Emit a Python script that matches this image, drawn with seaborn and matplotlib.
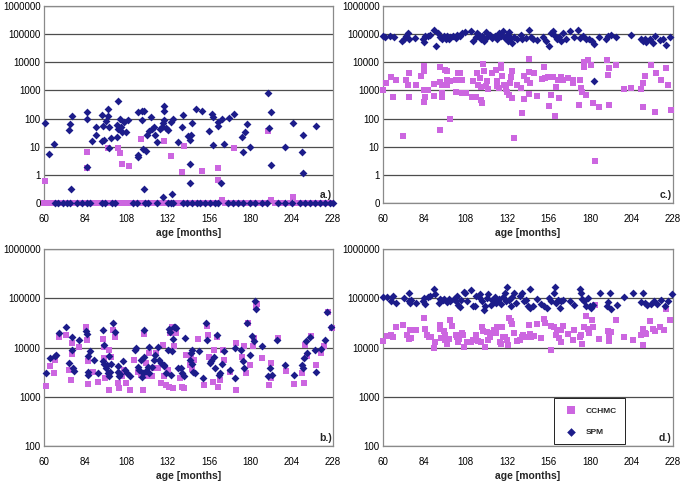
"""
Four log-scale scatter panels: CCHMC vs SPM values by age (months), panels a.) - d.)
"""

import numpy as np
import matplotlib
matplotlib.use("Agg")
import matplotlib.pyplot as plt
import seaborn as sns
from matplotlib.ticker import FixedLocator, FuncFormatter, NullLocator

# ── Data ──────────────────────────────────────────────────────────────────────

MONTH_TICKS = [60, 84, 108, 132, 156, 180, 204, 228]

# panel a.) -- zeros are drawn on the "0" line at the bottom
a_cchmc_month = [60.4, 85, 85, 97.4, 103.2, 104.1, 105.1, 109.5, 116.6, 129.7, 133.6, 140,
                 141.3, 151.9, 161.2, 161.2, 163.5, 170.2, 190.4, 191.8, 204.9,
                 60, 61, 62.5, 64, 65.5, 67, 68, 69.5, 71, 72.5, 74, 75, 76.5, 78, 79.5, 81,
                 82, 83.5, 85, 86.5, 88, 89, 90.5, 92, 93.5, 95, 96, 97.5, 99, 100.5, 102, 103,
                 104.5, 106, 107.5, 111, 112.5, 114, 115.5, 117, 118.5, 120, 121, 122.5, 124,
                 125.5, 127, 128.5, 130, 131, 132.5, 134, 135.5, 137, 138.5, 140, 141.5, 143,
                 144, 146, 148, 150, 152, 154, 156, 158, 160, 165, 168, 171, 174, 177, 180,
                 183, 186, 188, 194, 197, 199, 203, 207, 210, 212, 215, 218, 221, 224, 227]
a_cchmc_val = [0.6, 6.6, 1.7, 9, 9, 5.8, 2.4, 2.1, 19, 16, 4.6, 1.3,
               10.5, 1.35, 1.8, 0.68, 0.13, 8.7, 36, 0.13, 0.16] + [0] * 88

a_spm_month = [60.4, 62.9, 65.6, 74.5, 75.4, 76.2, 75.8, 84.8, 84.8, 84.8, 87.9, 90, 90,
               93.8, 93.8, 94.4, 94.8, 96.3, 97.1, 97.1, 97.7, 97.7, 99.2, 102.8, 102.4,
               102.4, 103, 104, 104.7, 105.6, 106.6, 107.6, 109.1, 114.7, 114.9, 114.7,
               116.8, 118.2, 117.2, 118.2, 117.8, 119.5, 120.1, 121, 122, 122.6, 124, 124.5,
               125.9, 127.4, 128.4, 129.4, 129.7, 129.7, 129.7, 129, 131.1, 132.3, 133.6,
               134.6, 135.1, 137.8, 140, 140.9, 143.6, 144.8, 145.2, 144.8, 144.8, 145.9,
               148.1, 151.9, 155.8, 157.7, 158.3, 158.1, 161.2, 161.2, 163.1, 163.5, 164.4,
               167.5, 170.6, 175, 177, 177.9, 175.6, 179.6, 190.4, 191, 191.8, 191.8, 200,
               204.9, 209.7, 210.7, 210.7, 218,
               66.4, 68.3, 71.2, 73.1, 75.1, 79, 81.9, 84.8, 86.7, 93.5, 95.3, 99.3, 101.3,
               111.9, 113.8, 118.7, 120.6, 125.4, 132.2, 134.1, 135, 140.8, 143, 145.9,
               148.8, 150.7, 153.6, 156.5, 159.4, 161.3, 167.1, 170, 172.9, 175.8, 179.8,
               182.7, 186.6, 189.5, 196.2, 200.1, 204, 208.8, 211.7, 214.7, 217.6, 220.5,
               223.4, 226.3, 228]
a_spm_val = [68, 5.5, 13, 40, 63, 126, 0.32, 175, 100, 1.9, 16, 27, 49,
             135, 16, 55, 18, 85, 225, 128, 52, 8.7, 20, 436, 59,
             23, 43, 100, 52, 32, 78, 33, 90, 5.2, 4.2, 175,
             190, 190, 90, 0.32, 8.3, 7.2, 26, 37, 117, 42, 49, 27,
             15, 42, 52, 72, 280, 190, 90, 0.16, 45, 39, 78,
             0.21, 100, 15, 49, 135, 24, 18, 26, 2.5, 0.5, 72,
             215, 190, 36, 145, 117, 11.5, 55, 78, 0.52, 95, 13,
             107, 150, 23, 32, 63, 6.6, 10, 800, 45, 175, 2.3, 9.5,
             68, 6.6, 27, 1.2, 55] + [0] * 49

# panel c.)
c_cchmc_month = [60, 61.7, 64.7, 65.6, 67.6, 71.4, 73.4, 74.5, 75.3, 74.9, 79.2, 82.1, 83.6,
                 84, 84, 83.6, 84.6, 86, 89.5, 89.8, 93, 93, 94.3, 94, 94, 93.3, 95.7, 96.8,
                 97.2, 97.2, 98.8, 98.8, 102, 102.4, 103.4, 104.4, 105.9, 105.9, 107.9, 111.7,
                 112.3, 113.6, 114.2, 115, 116, 116.6, 117, 117.6, 118.1, 118.5, 119.7, 120.4,
                 121, 123.4, 125.3, 125.9, 126.3, 127.3, 128.2, 128.6, 129.2, 130.2, 131.1,
                 132.1, 133.1, 133.6, 134.4, 134.6, 135, 135.6, 137.9, 139.9, 140.8, 141.4,
                 141.4, 143.7, 144.3, 144.7, 145.3, 144.7, 147.2, 149.1, 151.9, 153.5, 153.8,
                 155.8, 156.3, 157.3, 158.2, 159.6, 160.2, 161.2, 162.1, 163.1, 164.1, 167,
                 169.9, 169.9, 173.8, 174.4, 174.8, 175.2, 176.3, 176.7, 177.7, 178.6, 180.6,
                 181.5, 182.9, 185.4, 189.9, 190.2, 191.2, 191.2, 195.1, 199.5, 203.8, 209.6,
                 210.6, 211.6, 210.6, 215.4, 217.4, 218.4, 221.3, 223.8, 225.2, 227]
c_cchmc_val = [1000, 1800, 2900, 570, 2300, 25, 2300, 1500, 4000, 570, 1600, 3300, 1000,
               7600, 5100, 380, 600, 1070, 1700, 640, 2000, 6600, 1600, 570, 810, 40, 5500, 5100,
               2400, 1500, 2100, 95, 900, 2400, 4200, 4000, 2400, 810, 810, 570,
               2100, 570, 4200, 1500, 2800, 1300, 470, 370, 8700, 5100, 1400, 2100,
               1100, 4200, 5500, 2100, 1400, 1250, 6200, 8200, 3300, 1600, 1100,
               870, 700, 1800, 3100, 530, 5100, 20, 1600, 1250, 155, 490,
               3300, 2300, 13000, 4400, 1800, 770, 4000, 640, 2600, 7000, 2800,
               3100, 280, 700, 3000, 120, 1300, 2400, 530, 3000, 2400, 2800,
               2400, 1800, 300, 2400, 1250, 870, 7000, 10000, 700, 12000, 7700,
               350, 3, 250, 12000, 3500, 6200, 300, 7700, 1100, 1200, 1100,
               1900, 3300, 250, 7700, 165, 4200, 2400, 6200, 1600, 210]

c_spm_month = [60, 61.3, 64, 66.2, 71, 72.4, 73.6, 74.5, 75.3, 78.8, 83.3, 83.6, 84.6, 86,
               87.5, 89.8, 90.8, 91.8, 93, 94, 95.3, 96.3, 97.3, 98.2, 99.1, 100.7, 102, 103,
               104.6, 106, 107.3, 110.8, 112.3, 113.7, 114.7, 115.6, 116.6, 117.6, 118.5,
               119.5, 120.4, 122, 123.4, 124.7, 125.9, 127.3, 128.2, 129.8, 130.5, 131.7,
               132.5, 133, 134, 135, 135.9, 137.5, 139.8, 140.8, 142.7, 144.6, 145.6, 147.1,
               149.5, 152.4, 154.3, 156.3, 157.2, 158.2, 159.6, 160.7, 162.1, 163.1, 164.1,
               166, 168.5, 170.9, 173.2, 174.4, 175.7, 177.7, 179.6, 181, 182.5, 182.5,
               185.4, 189.3, 190.6, 191.8, 195.1, 203.8, 209.6, 210.6, 211.6, 212.5, 214.5,
               216.4, 217.4, 220.3, 222.2, 224.2, 226.1]
c_spm_val = [85000, 80000, 85000, 80000, 56000, 68000, 88000, 110000, 65000, 72000, 68000,
             52000, 85000, 88000, 93000, 140000, 37000, 110000, 80000, 65000, 88000, 68000,
             85000, 68000, 80000, 88000, 72000, 93000, 85000, 110000, 120000, 130000, 56000,
             80000, 110000, 93000, 68000, 85000, 56000, 115000, 80000, 93000, 72000, 88000,
             68000, 110000, 85000, 125000, 72000, 93000, 56000, 115000, 72000, 50000, 80000,
             65000, 93000, 65000, 72000, 135000, 80000, 68000, 62000, 80000, 56000, 38000,
             110000, 125000, 88000, 65000, 80000, 56000, 110000, 68000, 125000, 80000,
             135000, 72000, 85000, 65000, 68000, 56000, 45000, 2200, 80000, 68000, 88000,
             93000, 80000, 93000, 68000, 56000, 65000, 52000, 68000, 50000, 88000, 62000,
             65000, 42000, 80000]

# panel b.)
b_cchmc_month = [61, 63.3, 65.8, 66.6, 69, 72.9, 74.8, 75.8, 76.2, 76.2, 80.2, 84.4, 84.8,
                 85.3, 85.7, 88.3, 91.2, 94.1, 94.6, 95, 95.5, 98, 98, 99, 100, 101.3, 102.8,
                 103.8, 105.1, 106.6, 107.6, 110.2, 112.5, 114.5, 116.4, 117.4, 118.3, 119.3,
                 120.2, 121.2, 122.6, 124.1, 125.1, 126, 128, 128.9, 129.9, 130.8, 131.8,
                 132.8, 133.4, 134.2, 134.8, 135.4, 135.9, 136.9, 138.8, 140.3, 141.3, 142.3,
                 144.6, 145.2, 146, 147.1, 149.8, 152.9, 154.6, 155.2, 156.2, 158.1, 159.1,
                 160.6, 161.4, 162.6, 163.9, 164.9, 168.4, 171.7, 171.7, 175, 176.1, 177.5,
                 178.4, 180, 181.3, 181.8, 183.3, 183.8, 186.6, 190.8, 191.7, 192.1, 196,
                 200.4, 205.6, 210.1, 211.1, 211.5, 213, 215.3, 218.4, 221.3, 223, 224.9, 227.4]
b_cchmc_val = [1670, 4200, 3000, 5600, 16700, 18000, 3500, 2200, 7400, 12500, 10100, 26000,
               13900, 1800, 5200, 3200, 2000, 14700, 10400, 6000, 2400, 1400, 8900, 6300,
               23000, 16700, 1900, 1500, 2600, 3500, 1900, 1400, 5600, 3200, 2800, 1400,
               18500, 4800, 2600, 7700, 2600, 3800, 7700, 3800, 1900, 11300, 2600, 1700,
               3500, 1600, 19500, 26500, 1500, 10800, 22000, 19500, 2400, 1600, 1500, 7000,
               4400, 6300, 3600, 5600, 14700, 1700, 27500, 18000, 6500, 2000, 8900, 16700,
               1600, 2200, 8900, 5600, 3200, 12500, 1400, 6500, 10800, 3000, 32000, 4400,
               10800, 15500, 69000, 78000, 6000, 1700, 2400, 4800, 15500, 3300, 1800, 3100,
               1900, 11300, 6800, 17200, 4400, 7700, 10800, 51500, 25000]

b_spm_month = [61, 63.3, 66.2, 67, 69, 72.9, 74.8, 76.2, 76.2, 76.7, 77.3, 80.2, 84.4, 84.8,
               85.3, 85.3, 85.7, 86.9, 88.8, 91.2, 94.1, 94.1, 94.6, 95, 96, 96.6, 97, 98, 98,
               98.5, 99, 100, 101.3, 102.8, 103.2, 103.8, 104.4, 105.8, 107.1, 108.3, 110.2,
               112.9, 113.5, 114.9, 115, 116.4, 116.8, 117.4, 118.3, 118.3, 119.3, 120.2,
               120.8, 121.2, 122.6, 123.7, 124.6, 126, 127, 128.3, 129.5, 129.9, 131.2,
               131.8, 132.4, 133.4, 133.8, 134.2, 134.8, 135.4, 136.1, 136.7, 137.7, 139.6,
               140.5, 141.5, 142, 144.8, 145.6, 145.8, 146.1, 146.7, 147.6, 150, 152.5, 154.4,
               154.8, 156.3, 157.1, 158.7, 159.6, 160.6, 161.5, 162.5, 163.5, 164.5, 167.9,
               171.2, 171.2, 174.5, 175.6, 176, 177.9, 179.9, 180.8, 181.8, 182.8, 183.3,
               186.6, 190.5, 191.4, 192.4, 195.6, 200.1, 205.3, 209.7, 210.7, 211.1, 212.2,
               213, 214.9, 217.4, 218, 220.9, 223.2, 224.6, 226.7]
b_spm_val = [3000, 6000, 6700, 6900, 19500, 25700, 4900, 16700, 8700, 3800, 3400, 14400,
             22000, 19000, 6700, 2800, 3200, 8600, 5600, 3100, 23000, 5400, 4600, 11300,
             3800, 4400, 3000, 6800, 2600, 3200, 4600, 31500, 21000, 4200, 3200, 2600, 2900,
             5200, 3500, 3000, 2600, 8900, 9600, 4100, 3500, 5700, 2500, 3000, 23000, 6300,
             3300, 4100, 3000, 10100, 4100, 5600, 7100, 10400, 5700, 4900, 4400, 4200, 3000,
             8900, 23500, 21000, 2800, 8300, 14800, 26000, 26000, 24500, 3800, 3800, 3100,
             2600, 15500, 5600, 7900, 8900, 4600, 3200, 3100, 8300, 2400, 32000, 14300, 4900,
             5400, 6300, 3800, 18000, 2800, 3000, 4600, 8300, 3500, 9700, 2400, 8900, 5200,
             3800, 32000, 7100, 17000, 13300, 87000, 60000, 10500, 2600, 3800, 2800, 14300,
             4400, 2800, 4400, 3800, 6000, 13300, 7700, 16700, 8900, 3200, 9200, 14300,
             51500, 26000]

# panel d.)
d_cchmc_month = [60, 62.3, 64.7, 65.8, 67.8, 71.6, 74, 74.9, 75.9, 76.3, 79.3, 83.6, 84.2,
                 85.2, 86.5, 87.9, 89.8, 90, 92.9, 93.3, 93.7, 95.2, 95.8, 96.2, 97.2, 98.1,
                 99.1, 100, 102, 102.6, 103.4, 104, 104.9, 105.9, 106.5, 106.9, 108.8, 110.8,
                 112.3, 113.6, 115, 116.5, 117.5, 118.1, 118.9, 120, 120.8, 121.9, 123.3,
                 124.2, 125.2, 126.2, 127.7, 128.1, 129.1, 129.7, 130.5, 132, 132.4, 133, 134,
                 134.9, 135.9, 137.4, 139.4, 140.3, 141.3, 143.6, 144.6, 145.2, 146, 147.5,
                 149.4, 151.4, 153.3, 153.7, 157.2, 157.6, 159.1, 160.1, 161, 162, 163, 163.4,
                 164, 166.9, 169.9, 170.8, 174.3, 174.7, 175.1, 176.3, 177.6, 178.6, 179.6,
                 180.9, 181.5, 182.8, 185.3, 190.2, 190.8, 191.2, 191.8, 195.2, 199.7, 204.8,
                 209.7, 210.7, 210.7, 211.6, 212.6, 214.5, 216.5, 217.4, 220.3, 222.9, 224.2,
                 226.1]
d_cchmc_val = [13800, 17000, 18000, 16300, 25700, 29000, 18000, 14700, 22500, 15500, 22500,
               40000, 24000, 18000, 16300, 16700, 9700, 13200, 29000, 24000, 15500, 22000,
               18000, 14300, 12000, 14700, 36700, 27500, 18000, 16300, 13200, 14700, 18000,
               20000, 18000, 10400, 13200, 13200, 14300, 18000, 13800, 13200, 25700, 22000,
               10400, 21000, 14300, 16700, 19500, 22500, 20000, 25700, 13200, 12000, 25700,
               16700, 16700, 14300, 11000, 40000, 34000, 30000, 20000, 13800, 14300, 16300,
               18000, 16300, 29000, 18800, 16300, 17000, 30000, 15500, 38000, 32000, 8800,
               27500, 25700, 18000, 22500, 15500, 13200, 23000, 27500, 18800, 14300, 23000,
               16700, 18000, 12000, 25700, 44000, 24000, 20000, 36700, 25700, 74000, 14700,
               22000, 17000, 13800, 21000, 36700, 16300, 14300, 18000, 24000, 11000, 20000,
               18800, 34000, 24000, 22000, 25700, 22500, 60000, 36700]

d_spm_month = [60, 62.3, 64.8, 65.6, 67.8, 72, 74.9, 74.9, 75.5, 76.3, 79.3, 83.2, 83.6,
               84.6, 85.9, 87.1, 89.8, 90, 92.3, 93.3, 94.8, 95.6, 96.8, 98.1, 99.1, 101, 102,
               103, 103.4, 104.5, 105.3, 106.8, 107.7, 108.7, 111, 112.1, 113.1, 114.1, 115.4,
               116.4, 117.4, 118.4, 118.8, 120, 121, 122.3, 123.3, 124.8, 125.6, 127.1, 128.1,
               129.7, 130.5, 131.4, 132, 133, 134, 134.6, 135.9, 136.9, 139.4, 140.3, 141.4,
               142.8, 144.2, 145, 145.4, 146.8, 149.3, 151.6, 153.2, 155.1, 156.4, 157.4, 159,
               159.8, 160.3, 161.3, 162.3, 163.3, 164.2, 168.1, 170.6, 173.9, 174.5, 175.3,
               176.5, 177.8, 178.8, 179.8, 180.7, 181.7, 185.6, 189.5, 190.4, 191.4, 192,
               195.3, 199.7, 204.9, 209.7, 210.7, 211.7, 213.2, 215.1, 217.1, 218.5, 221,
               223.4, 224.9, 227.3]
d_spm_val = [107000, 107000, 90000, 112000, 81000, 100000, 87000, 130000, 81000, 93000,
             81000, 87000, 100000, 78000, 108000, 112000, 155000, 120000, 81000, 95000, 93000,
             95000, 83000, 95000, 87000, 95000, 87000, 112000, 74000, 67000, 93000, 135000,
             130000, 87000, 150000, 69000, 69000, 112000, 107000, 120000, 90000, 58000, 71000,
             100000, 120000, 74000, 93000, 108000, 81000, 95000, 78000, 108000, 125000, 87000,
             170000, 93000, 69000, 108000, 128000, 81000, 112000, 130000, 87000, 93000, 71000,
             155000, 64000, 69000, 95000, 78000, 69000, 64000, 100000, 87000, 125000, 170000,
             81000, 93000, 64000, 87000, 93000, 87000, 74000, 155000, 128000, 95000, 87000,
             69000, 100000, 69000, 64000, 74000, 128000, 69000, 83000, 128000, 60000, 74000,
             107000, 128000, 83000, 125000, 81000, 74000, 78000, 90000, 78000, 93000, 69000,
             90000, 120000]

PANELS = [
    # tag, cchmc month/val, spm month/val, y range, box (left, top, right, bottom) in px
    ("a.)", a_cchmc_month, a_cchmc_val, a_spm_month, a_spm_val, (0.1, 1e6), (44, 6, 333, 203)),
    ("c.)", c_cchmc_month, c_cchmc_val, c_spm_month, c_spm_val, (0.1, 1e6), (383, 6, 673, 203)),
    ("b.)", b_cchmc_month, b_cchmc_val, b_spm_month, b_spm_val, (100, 1e6), (44, 249, 333, 446)),
    ("d.)", d_cchmc_month, d_cchmc_val, d_spm_month, d_spm_val, (100, 1e6), (383, 249, 673, 446)),
]

PINK = "#cc66e0"
NAVY = "#1c1c8a"
W, H = 681, 483

# ── Style ─────────────────────────────────────────────────────────────────────

sns.set_style("white")
plt.rcParams["font.family"] = ["Liberation Sans", "DejaVu Sans"]


def ytick_label(v, _pos):
    return "0" if v < 1 else f"{int(round(v))}"


def draw_panel(fig, tag, cm, cv, sm, sv, yrange, box, show_legend=False):
    l, t, r, b = box
    ax = fig.add_axes([l / W, 1 - b / H, (r - l) / W, (b - t) / H])

    lo = yrange[0]
    # zero values sit on the bottom ("0") line of the log axis
    cv_plot = np.maximum(np.asarray(cv, dtype=float), lo)
    sv_plot = np.maximum(np.asarray(sv, dtype=float), lo)

    sns.scatterplot(x=cm, y=cv_plot, marker="s", color=PINK, s=25, linewidth=0,
                    ax=ax, label="CCHMC", clip_on=False, zorder=3)
    sns.scatterplot(x=sm, y=sv_plot, marker="D", color=NAVY, s=16, linewidth=0,
                    ax=ax, label="SPM", clip_on=False, zorder=4)

    ax.set_yscale("log")
    ax.set_ylim(*yrange)
    ax.set_xlim(60, 228)
    decades = [10.0 ** k for k in range(int(np.log10(yrange[0])), 7)]
    ax.yaxis.set_major_locator(FixedLocator(decades))
    ax.yaxis.set_minor_locator(NullLocator())
    ax.yaxis.set_major_formatter(FuncFormatter(ytick_label))
    ax.set_xticks(MONTH_TICKS)

    ax.yaxis.grid(True, color="#4d4d4d", lw=0.9)
    ax.set_axisbelow(True)
    for sp in ax.spines.values():
        sp.set_color("#8a8a8a")
        sp.set_linewidth(0.9)

    ax.tick_params(axis="both", length=0, labelsize=7, colors="black")
    ax.tick_params(axis="x", pad=8)
    ax.tick_params(axis="y", pad=2.5)
    ax.set_xlabel("age [months]", fontsize=7.5, fontweight="bold", labelpad=2.5)
    ax.set_ylabel("")

    ax.text(0.995, 0.015, tag, transform=ax.transAxes, ha="right", va="bottom",
            fontsize=7.5, fontweight="bold", zorder=5)

    if show_legend:
        leg = ax.legend(loc="lower left", bbox_to_anchor=(0.59, 0.01), frameon=True,
                        fancybox=False, edgecolor="#222222", framealpha=1,
                        prop={"size": 6, "weight": "bold"}, labelspacing=1.6,
                        borderpad=1.0, handletextpad=0.8, borderaxespad=0,
                        markerscale=1.1)
        leg.get_frame().set_linewidth(0.7)
        leg.set_zorder(6)
    else:
        ax.get_legend().remove()
    return ax


fig = plt.figure(figsize=(W / 100, H / 100), dpi=100)
for tag, cm, cv, sm, sv, yr, box in PANELS:
    draw_panel(fig, tag, cm, cv, sm, sv, yr, box, show_legend=(tag == "d.)"))

fig.savefig("out.png", dpi=100, facecolor="white")
plt.close(fig)
